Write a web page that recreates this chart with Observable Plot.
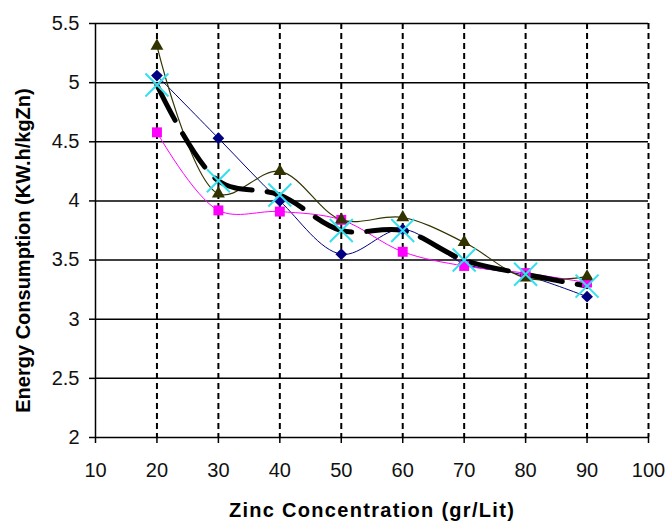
<!DOCTYPE html>
<html>
<head>
<meta charset="utf-8">
<script src="https://cdn.jsdelivr.net/npm/d3@7"></script>
<script src="https://cdn.jsdelivr.net/npm/@observablehq/plot@0.6"></script>
<style>
  html, body { margin: 0; padding: 0; background: #fff; }
</style>
</head>
<body>
<div id="chart"></div>
<script>
// Data
const zinc = [20, 30, 40, 50, 60, 70, 80, 90];
const seriesDiamond = [5.06, 4.53, 4.00, 3.55, 3.76, 3.47, 3.37, 3.19];
const seriesSquare = [4.58, 3.92, 3.91, 3.84, 3.57, 3.45, 3.39, 3.31];
const seriesTriangle = [5.31, 4.06, 4.25, 3.84, 3.86, 3.65, 3.35, 3.36];
const seriesAverage = [4.98, 4.17, 4.05, 3.75, 3.75, 3.50, 3.38, 3.28];

const xTicks = [10, 20, 30, 40, 50, 60, 70, 80, 90, 100];
const yTicks = [2, 2.5, 3, 3.5, 4, 4.5, 5, 5.5];
const xTitle = "Zinc Concentration (gr/Lit)";
const yTitle = "Energy Consumption (KW.h/kgZn)";

const toRows = (vals) => zinc.map((x, i) => ({x, y: vals[i]}));
const dDiamond = toRows(seriesDiamond);
const dSquare = toRows(seriesSquare);
const dTriangle = toRows(seriesTriangle);
const dAverage = toRows(seriesAverage);

const chart = Plot.plot({
  width: 667,
  height: 521,
  marginLeft: 95,
  marginRight: 19,
  marginTop: 23,
  marginBottom: 84,
  x: {domain: [10, 100]},
  y: {domain: [2, 5.5]},
  style: {fontFamily: "'Liberation Sans', Arial, sans-serif", fontSize: "20px", background: "#fff", color: "#000"},
  marks: [
    Plot.ruleY(yTicks, {stroke: "#000", strokeWidth: 1.5}),
    Plot.ruleX(xTicks.filter(d => d > 10), {stroke: "#000", strokeWidth: 2, strokeDasharray: "6,4"}),
    Plot.ruleX([10], {stroke: "#000", strokeWidth: 1.5}),
    Plot.axisX({ticks: xTicks, tickSize: 6, tickPadding: 19, tickFormat: d => String(d), label: null, stroke: "#000", strokeWidth: 1.5, fill: "#111"}),
    Plot.axisY({ticks: yTicks, tickSize: 6, tickPadding: 10, tickFormat: d => String(d), label: null, stroke: "#000", strokeWidth: 1.5, fill: "#111"}),
    Plot.line(dDiamond, {x: "x", y: "y", stroke: "#000080", strokeWidth: 1, curve: "catmull-rom"}),
    Plot.line(dSquare, {x: "x", y: "y", stroke: "#ff00ff", strokeWidth: 1, curve: "catmull-rom"}),
    Plot.line(dTriangle, {x: "x", y: "y", stroke: "#333300", strokeWidth: 1.2, curve: "catmull-rom"}),
    Plot.line(dAverage, {x: "x", y: "y", stroke: "#000", strokeWidth: 5, strokeDasharray: "40,15", curve: "catmull-rom"}),
    Plot.dot(dDiamond, {x: "x", y: "y", symbol: "diamond2", r: 5.3, fill: "#000080", stroke: "none"}),
    Plot.dot(dSquare, {x: "x", y: "y", symbol: "square", r: 5.6, fill: "#ff00ff", stroke: "none"}),
    Plot.dot(dTriangle, {x: "x", y: "y", symbol: "triangle", r: 4.8, fill: "#333300", stroke: "none"}),
    Plot.dot(dAverage, {x: "x", y: "y", symbol: "times", r: 10.5, fill: "none", stroke: "#33e0ee", strokeWidth: 2}),
    Plot.text([xTitle], {frameAnchor: "bottom", dy: 73, lineAnchor: "middle", textAnchor: "middle", fontWeight: "bold", fontSize: 20, fill: "#000"}),
    Plot.text([yTitle], {frameAnchor: "left", dx: -72, dy: 20, rotate: -90, lineAnchor: "middle", textAnchor: "middle", fontWeight: "bold", fontSize: 20, fill: "#000"})
  ]
});
// Wider letter spacing of the bold titles, as in the reference rendering
const titleTexts = chart.querySelectorAll('g[aria-label="text"] text');
titleTexts.forEach(t => {
  if (t.textContent === xTitle) t.style.letterSpacing = "1.3px";
});
document.getElementById("chart").appendChild(chart);
</script>
</body>
</html>
